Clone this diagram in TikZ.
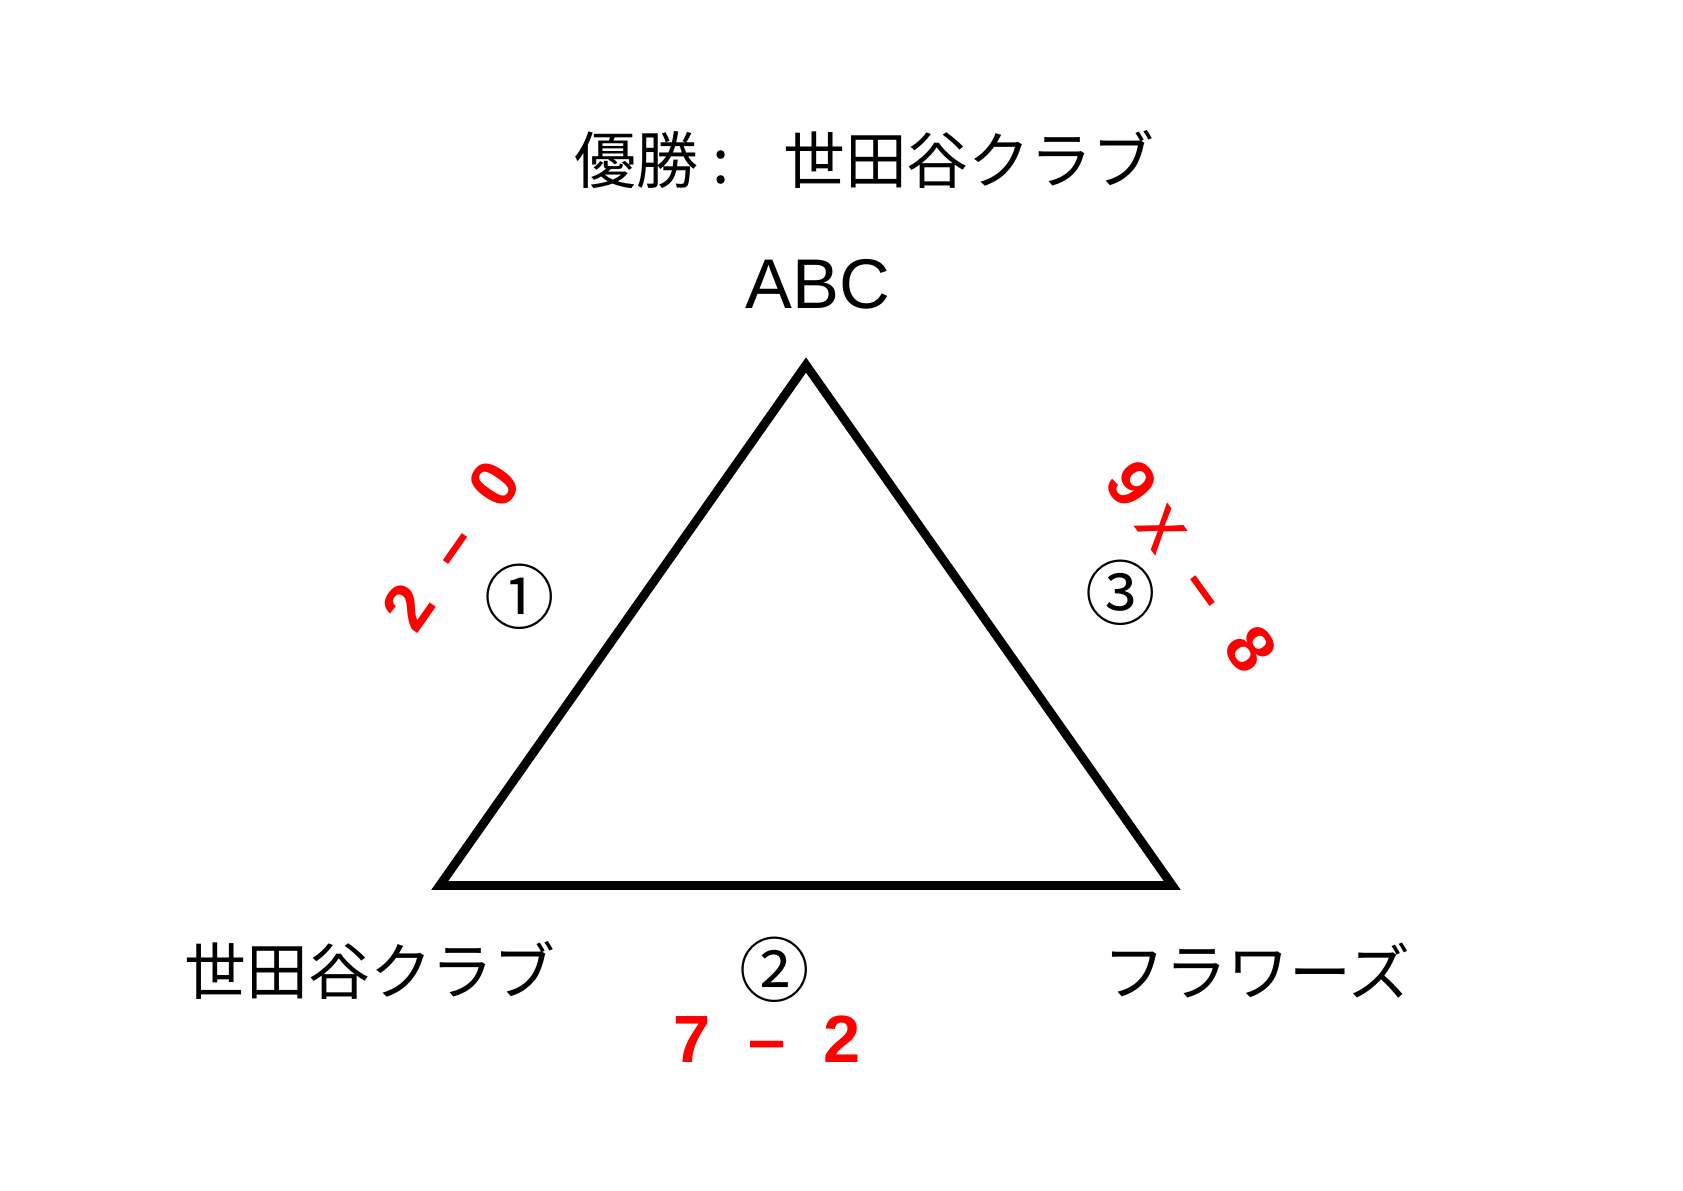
\documentclass[tikz,border=0pt]{standalone}
\usepackage{fontspec}
\setmainfont{Liberation Sans}
\newfontfamily\jp{Noto Sans CJK JP}
\newcommand{\scorechar}[2][0.75cm]{\makebox[#1]{#2}}

\begin{document}
\begin{tikzpicture}[x=0.01cm,y=-0.01cm,
	team/.style={font=\jp\fontsize{17.6}{20}\selectfont},
	game/.style={font=\jp\fontsize{20}{22}\selectfont},
	score/.style={text=red,font=\fontsize{19}{21}\selectfont\bfseries,inner sep=0pt}]

\useasboundingbox (0,0) rectangle (1683,1190);

\node[team,anchor=west,inner sep=0pt] (title) at (574,160) {優勝\hspace{0.22em}:\hspace{0.87em}世田谷クラブ};
\node[font=\fontsize{20}{22}\selectfont] (abc) at (818,284) {ABC};
\node[team] (setagaya) at (370,970) {世田谷クラブ};
\node[team] (flowers) at (1257,971) {フラワーズ};

\coordinate (top) at (806,365);
\coordinate (left) at (439.7,885.5);
\coordinate (right) at (1172.3,885.5);
\draw[line width=2.5pt] (top) -- (left) -- (right) -- cycle;

\node[game] (g1) at (520,597) {①};
\node[game] (g2) at (775,970) {②};
\node[game] (g3) at (1121,593) {③};

\node[score,rotate=55] (s1) at (451.7,545.7) {\scorechar{2}\scorechar{–}\scorechar{0}};
\node[score] (s2) at (767,1039) {\scorechar{7}\scorechar{–}\scorechar{2}};
\node[score,rotate=-54.2] (s3) at (1197.5,575.2) {\scorechar[0.33cm]{9}\scorechar{\mdseries\fontsize{22}{24}\selectfont x}\scorechar{–}\scorechar{8}};
\end{tikzpicture}
\end{document}
